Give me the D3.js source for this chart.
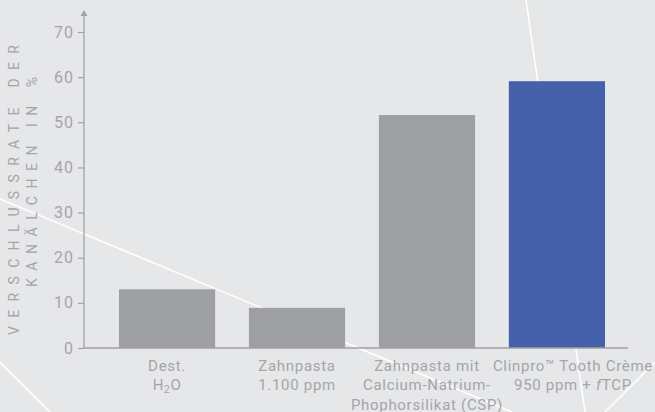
<!DOCTYPE html>
<html>
<head>
<meta charset="utf-8">
<script src="https://cdn.jsdelivr.net/npm/d3@7"></script>
<style>
  html, body { margin: 0; padding: 0; background: #e6e7e9; }
  svg { display: block; }
  text { font-family: Roboto, "Open Sans", sans-serif; fill: #a4a5a8; }
</style>
</head>
<body>
<svg id="chart" width="655" height="412"></svg>
<script>
// ---- data ----
const categories = ["Dest. H2O", "Zahnpasta 1.100 ppm", "Zahnpasta mit CSP", "Clinpro Tooth Crème"];
const values = [13, 8.9, 51.6, 59.1];
const barColors = ["#9e9fa2", "#9e9fa2", "#9e9fa2", "#4561ab"];
const yTicks = [0, 10, 20, 30, 40, 50, 60, 70];
const labelLines = [
  [[{t: "Dest."}], [{t: "H"}, {t: "2", sub: true}, {t: "O"}]],
  [[{t: "Zahnpasta"}], [{t: "1.100 ppm"}]],
  [[{t: "Zahnpasta mit"}], [{t: "Calcium-Natrium-"}], [{t: "Phophorsilikat (CSP)"}]],
  [[{t: "Clinpro™ Tooth Crème"}], [{t: "950 ppm + "}, {t: "f", it: true}, {t: "TCP"}]]
];
const yTitle = ["VERSCHLUSSRATE DER", "KANÄLCHEN IN %"];

const svg = d3.select("#chart");
const W = 655, H = 412;

svg.append("rect").attr("width", W).attr("height", H).attr("fill", "#e6e7e9");

// decorative background lines
const deco = [
  [[0, 199], [512, 412]],
  [[526, 0], [585, 412]],
  [[605, 412], [655, 362]],
  [[0, 362], [50, 412]]
];
svg.append("g").selectAll("line").data(deco).join("line")
  .attr("x1", d => d[0][0]).attr("y1", d => d[0][1])
  .attr("x2", d => d[1][0]).attr("y2", d => d[1][1])
  .attr("stroke", "#ffffff").attr("stroke-width", 1.6);

const axisX0 = 84, axisX1 = 628;
const y = d3.scaleLinear().domain([0, 70]).range([348, 32]);
const x = d3.scaleBand().domain(categories).range([93, 631]).paddingInner(0.26).paddingOuter(0.2);

// bars
svg.append("g").selectAll("rect").data(categories).join("rect")
  .attr("x", d => x(d))
  .attr("y", (d, i) => y(values[i]))
  .attr("width", x.bandwidth())
  .attr("height", (d, i) => y(0) - y(values[i]))
  .attr("fill", (d, i) => barColors[i]);

// y axis
const yAxis = d3.axisLeft(y).tickValues(yTicks).tickSize(6).tickPadding(4);
const gy = svg.append("g").attr("transform", `translate(${axisX0},0)`).call(yAxis);
gy.select(".domain").remove();
gy.selectAll(".tick line").attr("stroke", "#a0a1a4").attr("stroke-width", 1.2);
gy.selectAll(".tick text").style("font-size", "16px").style("letter-spacing", "1px")
  .style("font-family", "Roboto, sans-serif").attr("fill", "#a4a5a8");
gy.append("line").attr("x1", 0).attr("x2", 0).attr("y1", y(0)).attr("y2", 15)
  .attr("stroke", "#a0a1a4").attr("stroke-width", 1.3);
gy.append("path").attr("d", "M-3.5,16 L0,10 L3.5,16 Z").attr("fill", "#a0a1a4");

// x axis line
svg.append("line").attr("x1", axisX0).attr("x2", axisX1).attr("y1", y(0)).attr("y2", y(0))
  .attr("stroke", "#a0a1a4").attr("stroke-width", 1.5);

// category labels
const labelOffsets = [0, 0, 0, 16];
const lg = svg.append("g");
categories.forEach((c, i) => {
  const cx = x(c) + x.bandwidth() / 2 + labelOffsets[i];
  labelLines[i].forEach((line, j) => {
    const t = lg.append("text")
      .attr("x", cx).attr("y", 371 + j * 19.3)
      .attr("text-anchor", "middle")
      .style("font-size", "15px")
      .style("letter-spacing", "0.7px");
    line.forEach(seg => {
      const ts = t.append("tspan").text(seg.t);
      if (seg.sub) ts.attr("baseline-shift", "-25%").style("font-size", "10px");
      if (seg.it) ts.style("font-style", "italic");
    });
  });
});

// y title
const tpos = [{x: 19, y: 335, len: 290}, {x: 37, y: 287, len: 210}];
yTitle.forEach((s, i) => {
  svg.append("text")
    .attr("transform", `translate(${tpos[i].x},${tpos[i].y}) rotate(-90)`)
    .attr("text-anchor", "start")
    .attr("textLength", tpos[i].len)
    .attr("lengthAdjust", "spacing")
    .style("font-size", "14px")
    .style("font-family", "Roboto, sans-serif")
    .text(s);
});
</script>
</body>
</html>
